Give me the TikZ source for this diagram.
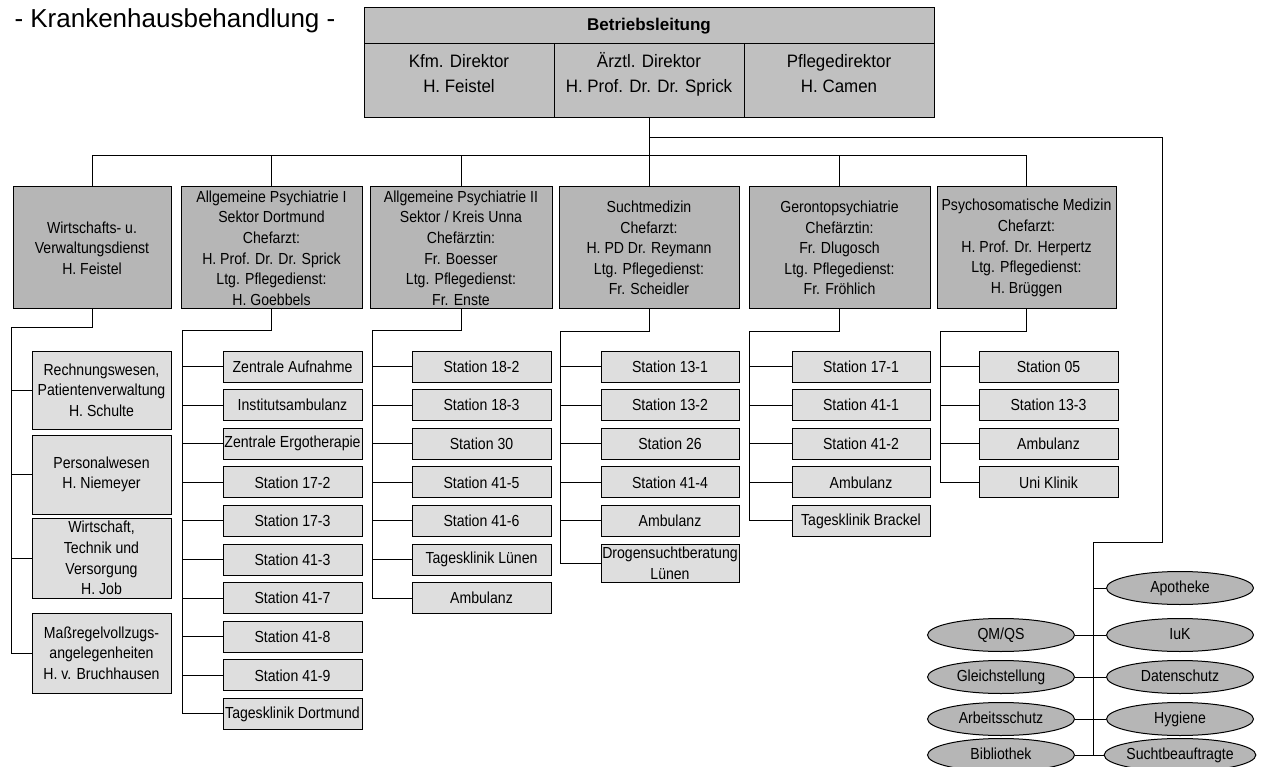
\documentclass[tikz,border=0pt]{standalone}
\usepackage{fontspec}
\setmainfont{Liberation Sans}
\newfontfamily\narrowfont[FakeStretch=0.88]{Liberation Sans}
\newfontfamily\topfont[FakeStretch=0.94]{Liberation Sans}
\usetikzlibrary{shapes.geometric}
\definecolor{topgray}{RGB}{192,192,192}
\definecolor{headgray}{RGB}{182,182,182}
\definecolor{itemgray}{RGB}{222,222,222}
\definecolor{ovalgray}{RGB}{182,182,182}

\begin{document}
\begin{tikzpicture}[y=-1pt,x=1pt,line width=1pt,
	topbox/.style={draw,fill=topgray,inner sep=0pt,align=center,minimum width=190pt,minimum height=74pt,text depth=17pt,font=\topfont\fontsize{18}{25}\selectfont},
	headbox/.style={draw,fill=headgray,inner sep=0pt,align=center,minimum height=122pt,font=\narrowfont\fontsize{16}{20.6}\selectfont},
	itembox/.style={draw,fill=itemgray,inner sep=0pt,align=center,minimum width=139pt,minimum height=31pt,font=\narrowfont\fontsize{16}{20.6}\selectfont},
	oval/.style={ellipse,draw,fill=ovalgray,inner sep=0pt,minimum width=147pt,minimum height=33pt,text height=11.5pt,text depth=3.5pt,font=\narrowfont\fontsize{16}{20}\selectfont}]
	\useasboundingbox (0,0) rectangle (1261,767);

	\node[anchor=west,inner sep=0pt,font=\fontsize{26}{30}\selectfont] (title) at (14,21) {- Krankenhausbehandlung -};

	\node[draw,fill=topgray,minimum width=570pt,minimum height=36pt,inner sep=0pt,font=\bfseries\fontsize{17}{20}\selectfont] (bl) at (649,26) {Betriebsleitung};
	\node[topbox] (kfm) at (459,81) {\vphantom{Ä}Kfm. Direktor\\H. Feistel};
	\node[topbox] (arzt) at (649,81) {Ärztl. Direktor\\H. Prof. Dr. Dr. Sprick};
	\node[topbox] (pflege) at (839,81) {\vphantom{Ä}Pflegedirektor\\H. Camen};

	\node[headbox,minimum width=158pt] (wv) at (92,248) {Wirtschafts- u.\\Verwaltungsdienst\\H. Feistel};
	\node[headbox,minimum width=181pt] (apI) at (271.5,248) {Allgemeine Psychiatrie I\\Sektor Dortmund\\Chefarzt:\\H. Prof. Dr. Dr. Sprick\\Ltg. Pflegedienst:\\H. Goebbels};
	\node[headbox,minimum width=182pt] (apII) at (461,248) {Allgemeine Psychiatrie II\\Sektor / Kreis Unna\\Chefärztin:\\Fr. Boesser\\Ltg. Pflegedienst:\\Fr. Enste};
	\node[headbox,minimum width=180pt] (sucht) at (649,248) {Suchtmedizin\\Chefarzt:\\H. PD Dr. Reymann\\Ltg. Pflegedienst:\\Fr. Scheidler};
	\node[headbox,minimum width=181pt] (geronto) at (839.5,248) {Gerontopsychiatrie\\Chefärztin:\\Fr. Dlugosch\\Ltg. Pflegedienst:\\Fr. Fröhlich};
	\node[headbox,minimum width=179pt] (psycho) at (1026.5,248) {Psychosomatische Medizin\\Chefarzt:\\H. Prof. Dr. Herpertz\\Ltg. Pflegedienst:\\H. Brüggen};

	\coordinate (bus) at (649,156);
	\coordinate (staff) at (1162,138);
	\coordinate (stab) at (1093,542);
	\draw (arzt.south) -- (sucht.north);
	\foreach \c in {wv,apI,apII,geronto,psycho}
		\draw (\c.north) |- (bus);

	\node[itembox,minimum height=78pt] (wv-0) at (101.5,390) {Rechnungswesen,\\Patientenverwaltung\\H. Schulte};
	\node[itembox,minimum height=79pt] (wv-1) at (101.5,474.5) {Personalwesen\\H. Niemeyer};
	\node[itembox,minimum height=80pt] (wv-2) at (101.5,558) {Wirtschaft,\\Technik und\\Versorgung\\H. Job};
	\node[itembox,minimum height=80pt] (wv-3) at (101.5,653) {Maßregelvollzugs-\\angelegenheiten\\H. v. Bruchhausen};
	\coordinate (wvj) at (11,328);
	\foreach \i in {0,...,3}
		\draw (wv-\i.west) -- (wv-\i.west -| wvj);
	\draw (wv.south) |- (wvj) -- (wvj |- wv-3.west);

	\coordinate (apIj) at (182,331);
	\foreach \t [count=\i from 0] in {Zentrale Aufnahme,Institutsambulanz,Zentrale Ergotherapie,Station 17-2,Station 17-3,Station 41-3,Station 41-7,Station 41-8,Station 41-9,Tagesklinik Dortmund} {
		\node[itembox] (apI-\i) at (292.5,366.5+38.6*\i) {\t};
		\draw (apI-\i.west) -- (apI-\i.west -| apIj);
	}
	\draw (apI.south) |- (apIj) -- (apIj |- apI-9.west);

	\coordinate (apIIj) at (372,331);
	\foreach \t [count=\i from 0] in {Station 18-2,Station 18-3,Station 30,Station 41-5,Station 41-6,Tagesklinik Lünen,Ambulanz} {
		\node[itembox] (apII-\i) at (481.5,366.5+38.6*\i) {\t};
		\draw (apII-\i.west) -- (apII-\i.west -| apIIj);
	}
	\draw (apII.south) |- (apIIj) -- (apIIj |- apII-6.west);

	\coordinate (suchtj) at (560,332);
	\foreach \t [count=\i from 0] in {Station 13-1,Station 13-2,Station 26,Station 41-4,Ambulanz} {
		\node[itembox,minimum width=138pt] (sucht-\i) at (670,366.5+38.6*\i) {\t};
		\draw (sucht-\i.west) -- (sucht-\i.west -| suchtj);
	}
	\node[itembox,minimum width=138pt,minimum height=38pt] (sucht-5) at (670,563) {Drogensuchtberatung\\Lünen};
	\draw (sucht-5.west) -- (sucht-5.west -| suchtj);
	\draw (sucht.south) |- (suchtj) -- (suchtj |- sucht-5.west);

	\coordinate (gerontoj) at (749,332);
	\foreach \t [count=\i from 0] in {Station 17-1,Station 41-1,Station 41-2,Ambulanz,Tagesklinik Brackel} {
		\node[itembox,minimum width=138pt] (geronto-\i) at (861,366.5+38.6*\i) {\t};
		\draw (geronto-\i.west) -- (geronto-\i.west -| gerontoj);
	}
	\draw (geronto.south) |- (gerontoj) -- (gerontoj |- geronto-4.west);

	\coordinate (psychoj) at (940,332);
	\foreach \t [count=\i from 0] in {Station 05,Station 13-3,Ambulanz,Uni Klinik} {
		\node[itembox] (psycho-\i) at (1048.5,366.5+38.6*\i) {\t};
		\draw (psycho-\i.west) -- (psycho-\i.west -| psychoj);
	}
	\draw (psycho.south) |- (psychoj) -- (psychoj |- psycho-3.west);

	\node[oval] (apo) at (1180,588) {Apotheke};
	\node[oval] (iuk) at (1180,635) {IuK};
	\node[oval] (ds) at (1180,677) {Datenschutz};
	\node[oval] (hyg) at (1180,719) {Hygiene};
	\node[oval] (sb) at (1180,755) {Suchtbeauftragte};
	\node[oval] (qm) at (1001,635) {QM/QS};
	\node[oval] (gl) at (1001,677) {Gleichstellung};
	\node[oval] (as) at (1001,719) {Arbeitsschutz};
	\node[oval] (bib) at (1001,755) {Bibliothek};

	\draw (staff -| arzt.south) -- (staff) |- (stab) -- (stab |- bib.east);
	\draw (apo.west) -- (apo.west -| stab);
	\draw (qm) -- (iuk);
	\draw (gl) -- (ds);
	\draw (as) -- (hyg);
	\draw (bib) -- (sb);
\end{tikzpicture}
\end{document}
